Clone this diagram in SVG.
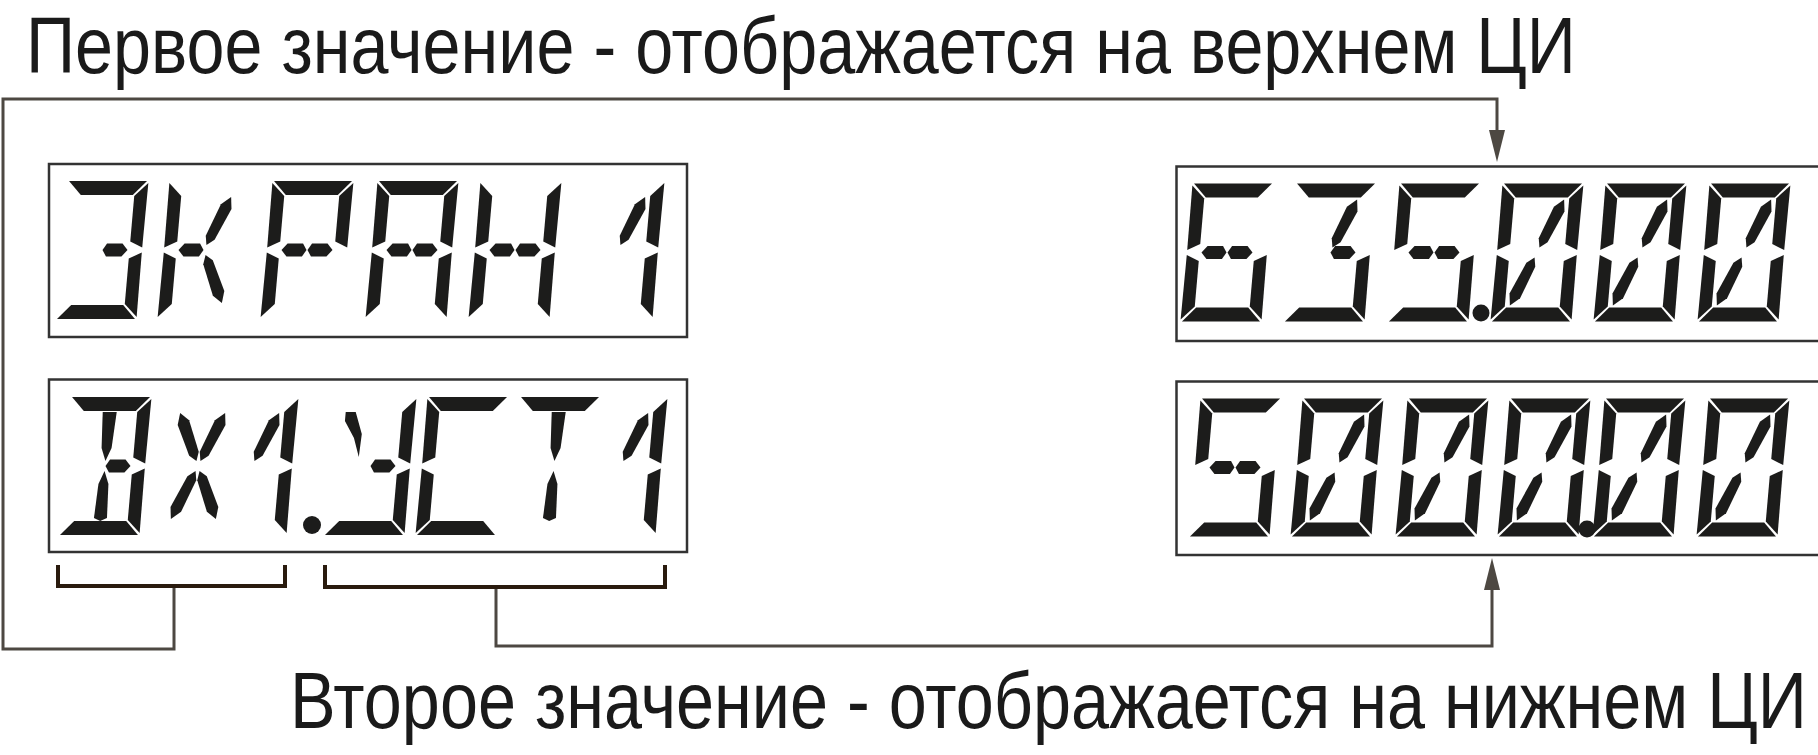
<svg xmlns="http://www.w3.org/2000/svg" xmlns:xlink="http://www.w3.org/1999/xlink" width="1818" height="755" viewBox="0 0 1818 755">
<style>
.lbl{font-family:'Liberation Sans',Arial,sans-serif;fill:#1a1a1a}
.box{fill:#fff;stroke:#333;stroke-width:2.5}
.lcd{fill:#1c1c1b}
.conn{fill:none;stroke:#4d4842;stroke-width:3}
.brk{fill:none;stroke:#2a1b0e;stroke-width:4}
</style>
<defs>
<polygon id="a" points="1,-69 79,-69 66,-55 14,-55"/>
<polygon id="d" points="1,69 79,69 66,55 14,55"/>
<polygon id="f" points="-0.5,-67 12.5,-54 12.5,-8.5 0,-2.5"/>
<polygon id="b" points="80.5,-67 67.5,-54 67.5,-8.5 80,-2.5"/>
<polygon id="c" points="80,2.5 67.5,8.5 67.5,54 80.5,67"/>
<polygon id="e" points="0,2.5 12.5,8.5 12.5,54 -0.5,67"/>
<polygon id="g1" points="14.5,0 20,-6.5 35.5,-6.5 39.5,0 35.5,6.5 20,6.5"/>
<polygon id="g2" points="40.5,0 44.5,-6.5 60,-6.5 65.5,0 60,6.5 44.5,6.5"/>
<polygon id="dUL" points="17.5,-53 27.1,-45.8 39.5,-14.2 38,-5 30.3,-10.2 16.1,-41"/>
<polygon id="dUR" points="62.5,-53 52.9,-45.8 40.5,-14.2 42,-5 49.7,-10.2 63.9,-41"/>
<polygon id="dLL" points="17.5,53 27.1,45.8 39.5,14.2 38,5 30.3,10.2 16.1,41"/>
<polygon id="dLR" points="62.5,53 52.9,45.8 40.5,14.2 42,5 49.7,10.2 63.9,41"/>
<polygon id="cU" points="33,-54 47,-54 45,-18 40,-5 35,-18"/>
<polygon id="cD" points="40,5 45,18 46.5,52 40,55 33.5,52 35,18"/>
<polygon id="uY" points="11,-54 21,-54 29,-32 28,-9 21.5,-28 11,-45"/>
<g id="zero"><use href="#a"/><use href="#b"/><use href="#c"/><use href="#d"/><use href="#e"/><use href="#f"/><use href="#dUR"/><use href="#dLL"/></g>
<g id="one"><use href="#dUR"/><use href="#b"/><use href="#c"/></g>
<g id="five"><use href="#a"/><use href="#f"/><use href="#g1"/><use href="#g2"/><use href="#c"/><use href="#d"/></g>
<marker id="arr" markerUnits="userSpaceOnUse" viewBox="0 0 32 16" markerWidth="32" markerHeight="16" refX="0" refY="8" orient="auto">
<path d="M0,0 L32,8 L0,16 Z" fill="#4d4842"/>
</marker>
</defs>
<rect width="1818" height="755" fill="#fff"/>

<g id="label-top"><text class="lbl" transform="translate(26,72.5) scale(0.85,1)" x="0" y="0" font-size="80" textLength="1823.5" lengthAdjust="spacingAndGlyphs">Первое значение - отображается на верхнем ЦИ</text></g>
<g id="label-bottom"><text class="lbl" transform="translate(290,728) scale(0.85,1)" x="0" y="0" font-size="79" textLength="1784.7" lengthAdjust="spacingAndGlyphs">Второе значение - отображается на нижнем ЦИ</text></g>

<g id="display-screen1" class="lcd">
<rect class="box" x="49" y="164" width="638" height="173"/>
<g transform="translate(62,250) skewX(-5)"><use href="#a"/><use href="#b"/><use href="#c"/><use href="#d"/><use href="#g2"/></g>
<g transform="translate(164,250) skewX(-5)"><use href="#f"/><use href="#e"/><use href="#g1"/><use href="#dUR"/><use href="#dLR"/></g>
<g transform="translate(267,250) skewX(-5)"><use href="#a"/><use href="#b"/><use href="#f"/><use href="#e"/><use href="#g1"/><use href="#g2"/></g>
<g transform="translate(372,250) skewX(-5)"><use href="#a"/><use href="#b"/><use href="#c"/><use href="#f"/><use href="#e"/><use href="#g1"/><use href="#g2"/></g>
<g transform="translate(475,250) skewX(-5)"><use href="#b"/><use href="#c"/><use href="#f"/><use href="#e"/><use href="#g1"/><use href="#g2"/></g>
<g transform="translate(578,250) skewX(-5)"><use href="#one"/></g>
</g>

<g id="display-param" class="lcd">
<rect class="box" x="49" y="379.5" width="638" height="172.5"/>
<g transform="translate(65,466) skewX(-5)"><use href="#a"/><use href="#cU"/><use href="#cD"/><use href="#g2"/><use href="#b"/><use href="#c"/><use href="#d"/></g>
<g transform="translate(158,466) skewX(-5)"><use href="#dUL"/><use href="#dUR"/><use href="#dLL"/><use href="#dLR"/></g>
<g transform="translate(212,466) skewX(-5)"><use href="#one"/></g>
<circle cx="312" cy="525" r="9"/>
<g transform="translate(330,466) skewX(-5)"><use href="#uY"/><use href="#g2"/><use href="#b"/><use href="#c"/><use href="#d"/></g>
<g transform="translate(422,466) skewX(-5)"><use href="#a"/><use href="#f"/><use href="#e"/><use href="#d"/></g>
<g transform="translate(514,466) skewX(-5)"><use href="#a"/><use href="#cU"/><use href="#cD"/></g>
<g transform="translate(581,466) skewX(-5)"><use href="#one"/></g>
</g>

<g id="display-upper" class="lcd">
<rect class="box" x="1176.5" y="166.5" width="1637" height="174.5"/>
<g transform="translate(1187,252.5) skewX(-5)"><use href="#a"/><use href="#f"/><use href="#e"/><use href="#d"/><use href="#c"/><use href="#g1"/><use href="#g2"/></g>
<g transform="translate(1290,252.5) skewX(-5)"><use href="#a"/><use href="#dUR"/><use href="#g2"/><use href="#c"/><use href="#d"/></g>
<g transform="translate(1394,252.5) skewX(-5)"><use href="#five"/></g>
<circle cx="1481" cy="313" r="8.5"/>
<g transform="translate(1497,252.5) skewX(-5)"><use href="#zero"/></g>
<g transform="translate(1600,252.5) skewX(-5)"><use href="#zero"/></g>
<g transform="translate(1704,252.5) skewX(-5)"><use href="#zero"/></g>
</g>

<g id="display-lower" class="lcd">
<rect class="box" x="1176.5" y="381.5" width="1637" height="173.5"/>
<g transform="translate(1195,467.5) skewX(-5)"><use href="#five"/></g>
<g transform="translate(1297,467.5) skewX(-5)"><use href="#zero"/></g>
<g transform="translate(1402,467.5) skewX(-5)"><use href="#zero"/></g>
<g transform="translate(1504,467.5) skewX(-5)"><use href="#zero"/></g>
<circle cx="1587" cy="529" r="8.5"/>
<g transform="translate(1599,467.5) skewX(-5)"><use href="#zero"/></g>
<g transform="translate(1703,467.5) skewX(-5)"><use href="#zero"/></g>
</g>

<g id="brackets">
<path class="brk" d="M58,565 V586 H285 V565"/>
<path class="brk" d="M325,565 V587 H665 V565"/>
</g>

<g id="connectors">
<polyline class="conn" points="174,588 174,649 3,649 3,99 1497,99 1497,130" marker-end="url(#arr)"/>
<polyline class="conn" points="496,589 496,646 1492,646 1492,590" marker-end="url(#arr)"/>
</g>
</svg>
